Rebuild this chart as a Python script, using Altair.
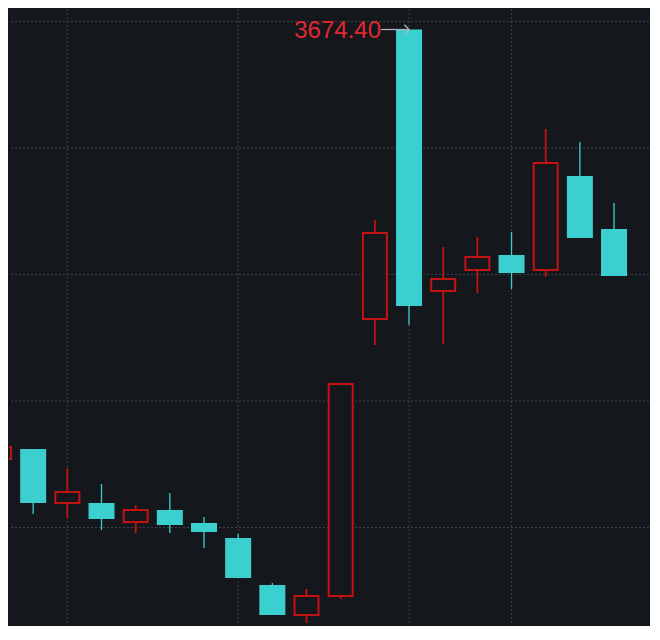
import altair as alt
import pandas as pd

# ---- data ----
candle_index = list(range(19))
opens  = [3588.5, 3590.5, 3579.7, 3579.7, 3575.9, 3578.3, 3575.7, 3572.7, 3563.3, 3557.3,
          3561.1, 3616.5, 3674.4, 3622.1, 3626.3, 3629.3, 3626.3, 3645.1, 3634.5]
closes = [3590.9, 3579.7, 3581.9, 3576.5, 3578.3, 3575.3, 3573.9, 3564.7, 3557.3, 3561.1,
          3603.5, 3633.7, 3619.1, 3624.5, 3628.9, 3625.7, 3647.7, 3632.7, 3625.1]
highs  = [3591.3, 3590.5, 3586.7, 3583.5, 3579.3, 3581.7, 3576.9, 3573.5, 3563.7, 3562.5,
          3603.5, 3636.3, 3674.4, 3630.9, 3632.9, 3633.9, 3654.5, 3651.9, 3639.7]
lows   = [3588.1, 3577.5, 3576.7, 3574.3, 3573.7, 3573.7, 3570.7, 3564.7, 3557.3, 3555.7,
          3560.5, 3611.3, 3615.3, 3611.5, 3621.7, 3622.5, 3624.9, 3632.7, 3625.1]
grid_prices = [3676.0, 3650.7, 3625.4, 3600.1, 3574.8]
grid_candles = [2, 7, 12, 15]

BG = "#14171c"
RED = "#c41212"
CYAN = "#3ccfd0"
GRID = "#3c4048"
LABEL_RED = "#e0282f"
ARROW = "#b8b8b8"

df = pd.DataFrame({"i": candle_index, "open": opens, "close": closes,
                   "high": highs, "low": lows})
df["dir"] = ["up" if c >= o else "down" for o, c in zip(opens, closes)]
df["top"] = df[["open", "close"]].max(axis=1)
df["bot"] = df[["open", "close"]].min(axis=1)
peak = df[df["high"] == df["high"].max()]

W, H = 640, 616
xs = alt.Scale(domain=[0.2927, 19.023], nice=False, zero=False, padding=0)
ys = alt.Scale(domain=[3555.3, 3678.5], nice=False, zero=False, padding=0)

X = alt.X("i:Q", scale=xs, axis=None)
base = alt.Chart(df)

hgrid = alt.Chart(pd.DataFrame({"p": grid_prices})).mark_rule(
    color=GRID, strokeWidth=1, strokeDash=[2, 2]
).encode(y=alt.Y("p:Q", scale=ys, axis=None))

vgrid = alt.Chart(pd.DataFrame({"g": grid_candles})).mark_rule(
    color=GRID, strokeWidth=1, strokeDash=[2, 2]
).encode(x=alt.X("g:Q", scale=xs, axis=None))

red_wick = base.transform_filter(alt.datum.dir == "up").mark_rule(
    color=RED, strokeWidth=1.8, clip=True
).encode(x=X, y=alt.Y("low:Q", scale=ys, axis=None), y2="high:Q")

cyan_wick = base.transform_filter(alt.datum.dir == "down").mark_rule(
    color=CYAN, strokeWidth=1.3, clip=True
).encode(x=X, y=alt.Y("low:Q", scale=ys, axis=None), y2="high:Q")

red_body = base.transform_filter(alt.datum.dir == "up").mark_bar(
    size=24, fill=BG, stroke=RED, strokeWidth=2, clip=True
).encode(x=X, y=alt.Y("bot:Q", scale=ys, axis=None), y2="top:Q")

cyan_body = base.transform_filter(alt.datum.dir == "down").mark_bar(
    size=26, color=CYAN, clip=True
).encode(x=X, y=alt.Y("bot:Q", scale=ys, axis=None), y2="top:Q")

pk = alt.Chart(peak)
arrow_line = pk.mark_rule(color=ARROW, strokeWidth=1.2, xOffset=-28, x2Offset=-1).encode(
    x=alt.X("i:Q", scale=xs, axis=None), x2="i:Q",
    y=alt.Y("high:Q", scale=ys, axis=None))
arrow_head = pk.mark_point(shape="M-1,-1L0,0L-1,1", filled=False, size=90,
                           color=ARROW, strokeWidth=1.2, opacity=1).encode(
    x=alt.X("i:Q", scale=xs, axis=None), y=alt.Y("high:Q", scale=ys, axis=None))
label = pk.mark_text(align="right", baseline="middle", dx=-28, dy=1,
                     font="Liberation Sans", fontSize=24, color=LABEL_RED).encode(
    x=alt.X("i:Q", scale=xs, axis=None), y=alt.Y("high:Q", scale=ys, axis=None),
    text=alt.Text("high:Q", format=".2f"))

chart = alt.layer(hgrid, vgrid, red_wick, cyan_wick, red_body, cyan_body,
                  arrow_line, arrow_head, label).properties(
    width=W, height=H, padding=0, background=BG
).configure_view(stroke=None, fill=BG)

chart.save("out.html", embed_options={"renderer": "svg", "actions": False})
